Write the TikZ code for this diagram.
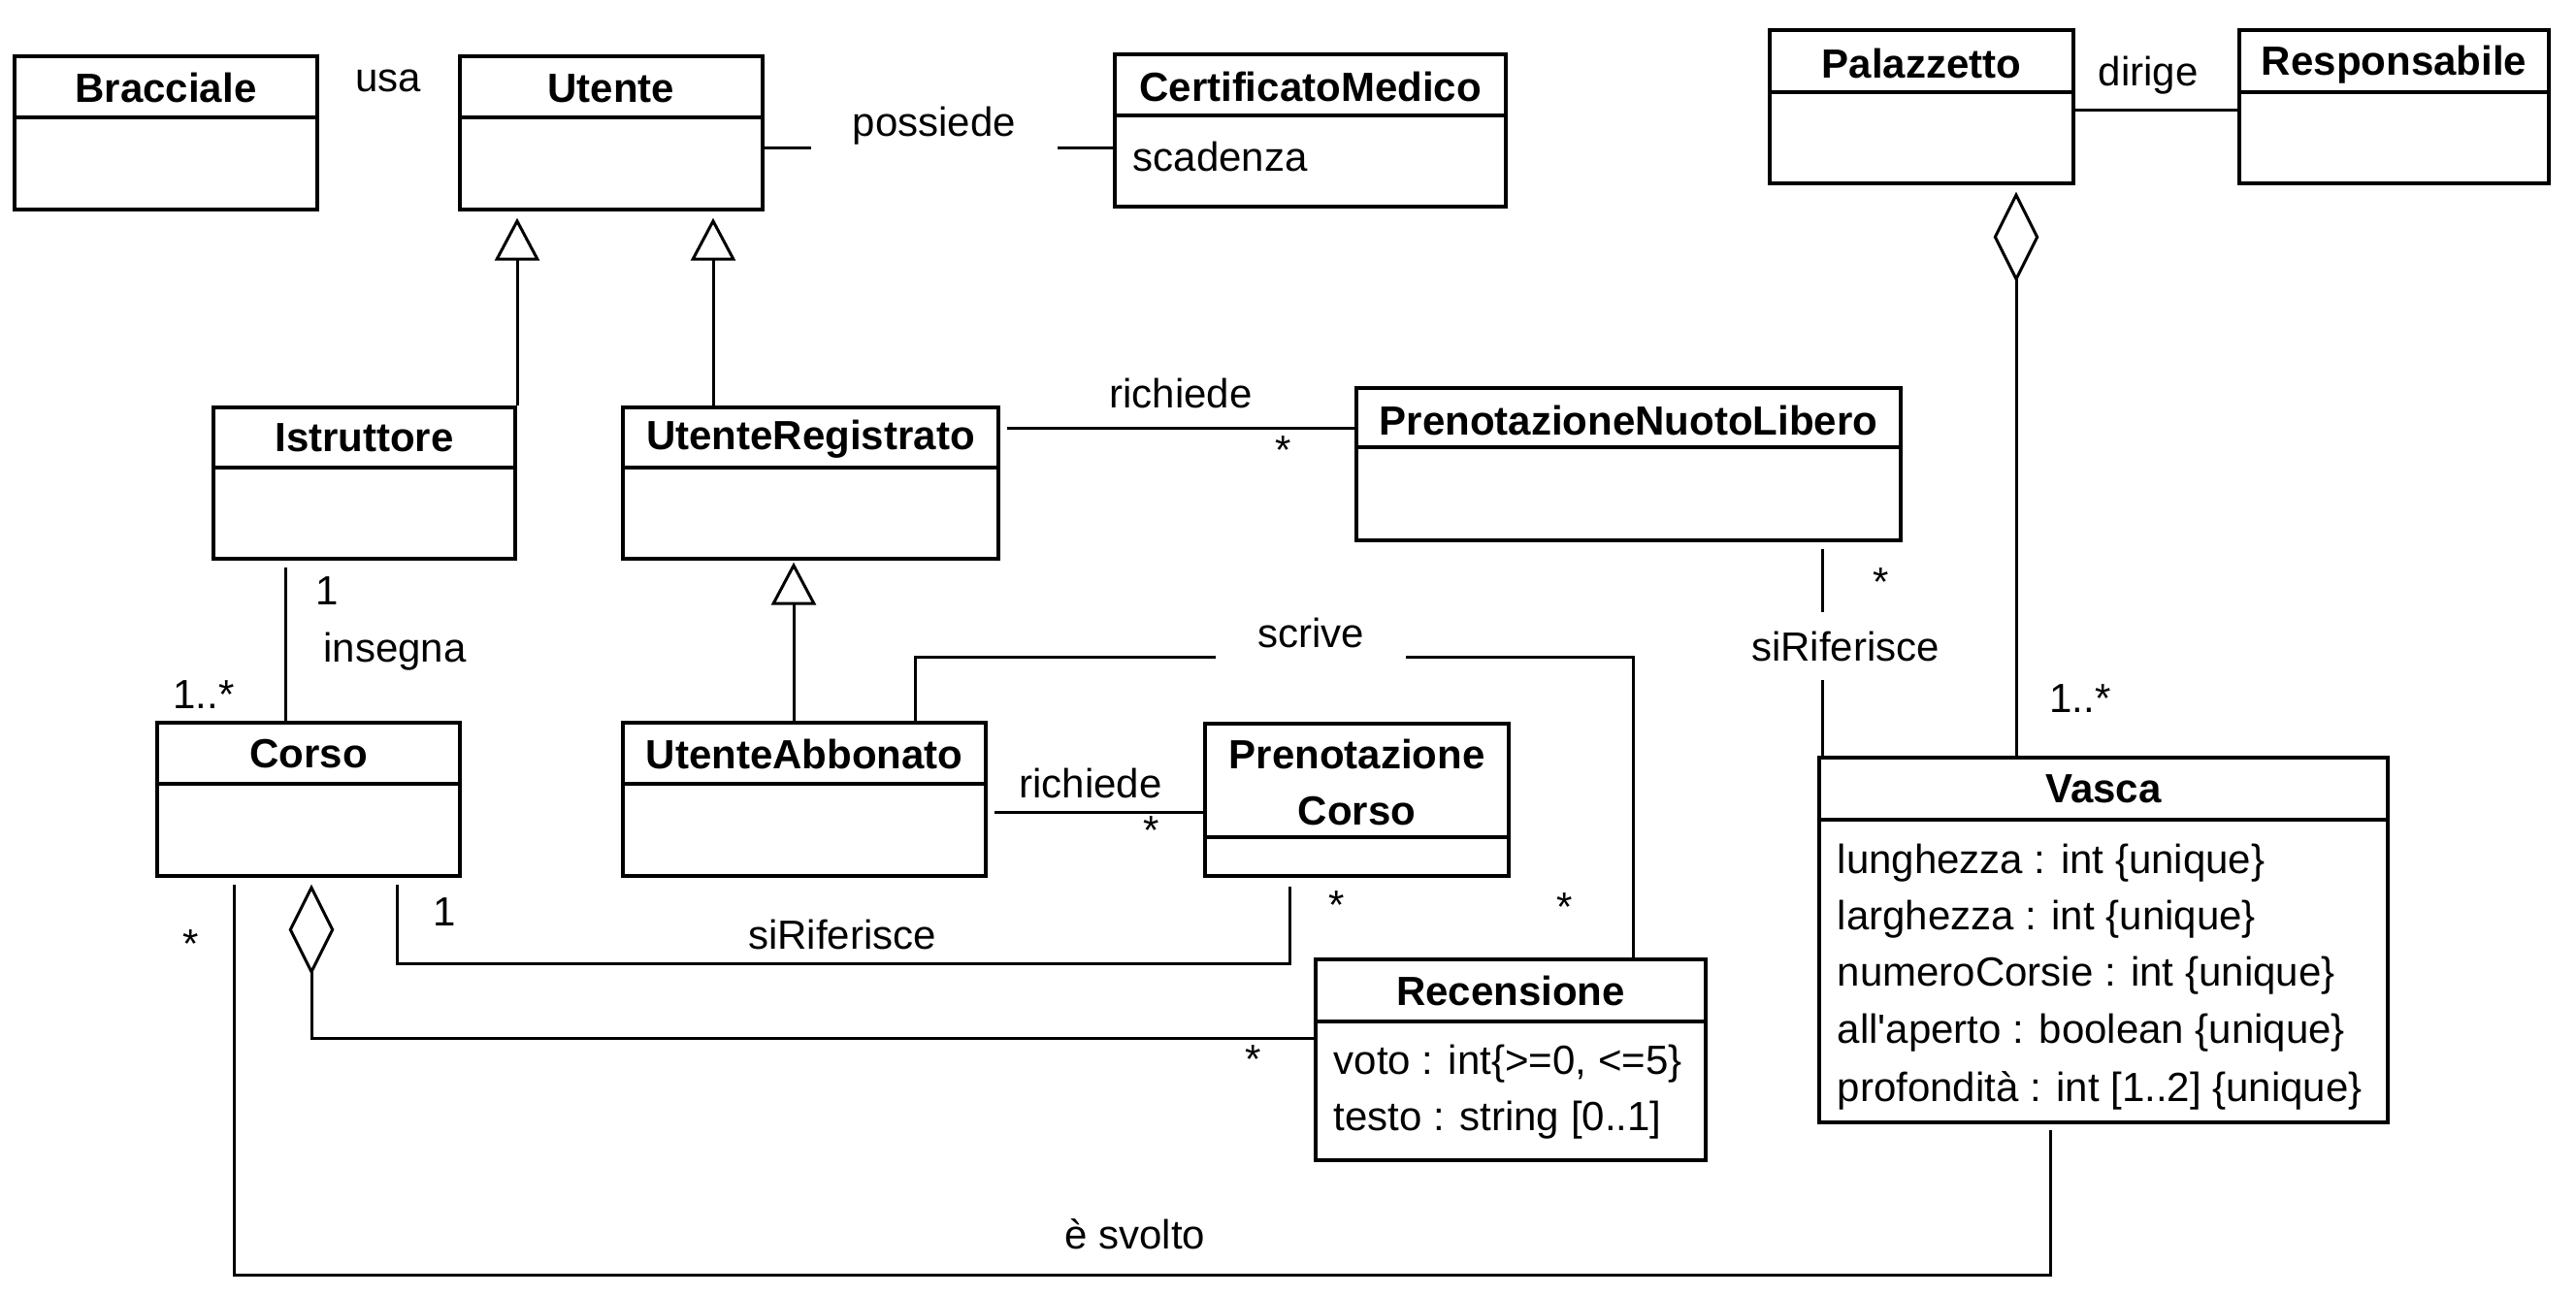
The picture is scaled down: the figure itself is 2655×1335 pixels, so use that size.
\documentclass[tikz,border=0pt]{standalone}
\usepackage{fontspec}
\setmainfont{Liberation Sans}[Ligatures=TeXOff]
\usetikzlibrary{arrows.meta,fit}

\begin{document}
\begin{tikzpicture}[x=0.3pt,y=-0.3pt,font=\fontsize{12.6}{17.4}\selectfont]
  \tikzset{classbox/.style = {draw,line width=1.2pt,inner sep=0pt}}
  \tikzset{classname/.style = {font=\fontsize{12.6}{17.4}\selectfont\bfseries,align=center,inner sep=0pt}}
  \tikzset{attr/.style = {anchor=west,inner sep=0pt,xshift=6pt}}
  \tikzset{lbl/.style = {inner sep=0pt}}
  \tikzset{gap/.style = {lbl,fill=white,inner xsep=13pt,inner ysep=5pt}}
  \tikzset{edge/.style = {line width=0.9pt}}
  \tikzset{loose/.style = {shorten <=2.2pt}}
  \tikzset{%
  tipG/.tip={Triangle[open,length=13.2pt,width=13.8pt]},
  tipD/.tip={Diamond[open,length=28pt,width=14pt]},
}
  \useasboundingbox (0,0) rectangle (2655,1335);

  % classes
  \node[classbox,fit={(15,58) (327,216)}] (Bracciale) {};
  \node[classbox,fit={(474,58) (786,216)}] (Utente) {};
  \node[classbox,fit={(1149,56) (1552,213)}] (CertificatoMedico) {};
  \node[classbox,fit={(1824,31) (2137,189)}] (Palazzetto) {};
  \node[classbox,fit={(2308,31) (2627,189)}] (Responsabile) {};
  \node[classbox,fit={(220,420) (531,576)}] (Istruttore) {};
  \node[classbox,fit={(642,420) (1029,576)}] (UtenteRegistrato) {};
  \node[classbox,fit={(1398,400) (1959,557)}] (PrenotazioneNuotoLibero) {};
  \node[classbox,fit={(162,745) (474,903)}] (Corso) {};
  \node[classbox,fit={(642,745) (1016,903)}] (UtenteAbbonato) {};
  \node[classbox,fit={(1242,746) (1555,903)}] (PrenotazioneCorso) {};
  \node[classbox,fit={(1875,781) (2461,1157)}] (Vasca) {};
  \node[classbox,fit={(1356,989) (1758,1196)}] (Recensione) {};

  \foreach \c/\y in {Bracciale/121, Utente/121, CertificatoMedico/119, Palazzetto/95,
      Responsabile/95, Istruttore/482, UtenteRegistrato/482, PrenotazioneNuotoLibero/461,
      Corso/808, UtenteAbbonato/808, PrenotazioneCorso/863, Vasca/845, Recensione/1053}
    \draw[line width=1.2pt] (\c.west |- 0,\y) -- (\c.east |- 0,\y);

  \foreach \c/\y in {Bracciale/90, Utente/91, CertificatoMedico/89, Palazzetto/65,
      Responsabile/67, Istruttore/451, UtenteRegistrato/453, PrenotazioneNuotoLibero/433,
      Corso/777, UtenteAbbonato/777, Vasca/813, Recensione/1021}
    \node[classname] (t\c) at (\c.north |- 0,\y) {\c};
  \node[classname] (tPrenotazioneCorso) at (PrenotazioneCorso.north |- 0,806) {Prenotazione\\Corso};

  % attributes
  \node[attr] (aScadenza) at (CertificatoMedico.west |- 0,161) {scadenza};
  \foreach \y/\t/\n in {890/{lunghezza : int \{unique\}}/1, 948/{larghezza : int \{unique\}}/2,
      1006/{numeroCorsie : int \{unique\}}/3, 1065/{all'aperto : boolean \{unique\}}/4,
      1124/{profondità : int [1..2] \{unique\}}/5}
    \node[attr] (aVasca\n) at (Vasca.west |- 0,\y) {\t};
  \node[attr] (aVoto) at (Recensione.west |- 0,1097) {voto : int\{>=0, <=5\}};
  \node[attr] (aTesto) at (Recensione.west |- 0,1155) {testo : string [0..1]};

  % generalizations
  \draw[edge,-tipG,shorten >=2pt] (Istruttore.north east) -- (Istruttore.north east |- Utente.south);
  \draw[edge,-tipG,shorten >=2pt] (UtenteRegistrato.north -| 735,0) -- (Utente.south -| 735,0);
  \draw[edge,-tipG,shorten >=0.5pt] (UtenteAbbonato.north -| 818,0) -- (UtenteRegistrato.south -| 818,0);

  % associations
  \draw[edge] (Utente.east |- 0,152) -- (CertificatoMedico.west |- 0,152);
  \draw[edge] (Palazzetto.east |- 0,113) -- (Responsabile.west |- 0,113);
  \draw[edge,loose] (UtenteRegistrato.east |- 0,441) -- (PrenotazioneNuotoLibero.west |- 0,441);
  \draw[edge,loose] (Istruttore.south -| 294,0) -- (Corso.north -| 294,0);
  \draw[edge] (UtenteAbbonato.north -| 943,0) -- (943,677) -| (Recensione.north -| 1683,0);
  \draw[edge,loose] (UtenteAbbonato.east |- 0,837) -- (PrenotazioneCorso.west |- 0,837);
  \draw[edge,loose,shorten >=2.6pt] (Corso.south -| 409,0) -- (409,993) -| (PrenotazioneCorso.south -| 1329,0);
  \draw[edge,-tipD,shorten >=2pt] (Recensione.west |- 0,1070) -| (Corso.south -| 321,0);
  \draw[edge,loose,shorten >=1.8pt] (Corso.south -| 241,0) -- (241,1314) -| (Vasca.south -| 2113,0);
  \draw[edge,loose] (PrenotazioneNuotoLibero.south -| 1878,0) -- (Vasca.north -| 1878,0);
  \draw[edge,-tipD,shorten >=2pt] (Vasca.north -| 2078,0) -- (Palazzetto.south -| 2078,0);

  % labels and multiplicities
  \node[lbl] (lUsa) at (400,83) {usa};
  \node[gap] (lPossiede) at (963,130) {possiede};
  \node[lbl] (lDirige) at (2214,78) {dirige};
  \node[lbl] (lRichiede) at (1217,405) {richiede};
  \node[lbl] (mRichiede) at (1323,464) {*};
  \node[lbl] (mIstruttore) at (337,609) {1};
  \node[lbl] (lInsegna) at (407,672) {insegna};
  \node[lbl] (mCorso) at (210,716) {1..*};
  \node[gap] (lScrive) at (1351,652) {scrive};
  \node[lbl] (lRichiedeCorso) at (1124,807) {richiede};
  \node[lbl] (mRichiedeCorso) at (1187,856) {*};
  \node[lbl] (mRifCorso) at (458,940) {1};
  \node[lbl] (lRifCorso) at (868,963) {siRiferisce};
  \node[lbl] (mRifPrenotazione) at (1378,933) {*};
  \node[lbl] (mScrive) at (1613,935) {*};
  \node[lbl] (mSvolto) at (197,973) {*};
  \node[lbl] (mRecensione) at (1292,1092) {*};
  \node[lbl] (lSvolto) at (1170,1272) {è svolto};
  \node[gap,inner ysep=6pt] (lRifVasca) at (1902,666) {siRiferisce};
  \node[lbl] (mRifVasca) at (1939,600) {*};
  \node[lbl] (mVasca) at (2144,720) {1..*};

\end{tikzpicture}
\end{document}
